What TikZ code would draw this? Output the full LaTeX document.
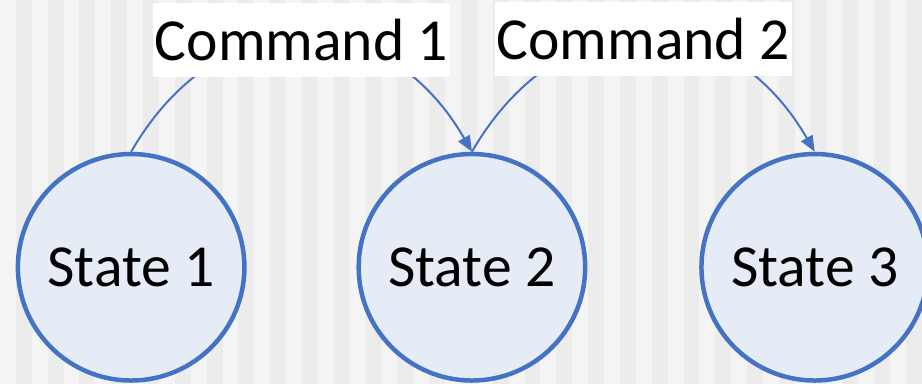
\documentclass[tikz,border=0pt]{standalone}
\usepackage{fontspec}
\setmainfont{Carlito}
\usetikzlibrary{arrows.meta}
\definecolor{stripeA}{RGB}{244,244,244}
\definecolor{stripeB}{RGB}{236,236,236}
\definecolor{stateline}{RGB}{68,114,196}
\definecolor{statefill}{RGB}{230,236,246}
\tikzset{
  statenode/.style={circle, draw=stateline, fill=statefill, line width=4.5pt,
    minimum size=228pt, inner sep=0pt, font=\fontsize{60}{72}\selectfont},
  cmdlabel/.style={fill=white, inner xsep=2pt, inner ysep=0pt,
    minimum height=74pt, font=\fontsize{60}{72}\selectfont},
  transition/.style={draw=stateline, line width=2pt,
    -{Triangle[length=16pt,width=13pt]}}
}
\begin{document}
\begin{tikzpicture}[x=1pt,y=-1pt]
  % striped backdrop
  \fill[stripeA] (0,0) rectangle (922,386);
  \foreach \k in {0,...,28} {
    \fill[stripeB] ({16+32*\k},0) rectangle ({32+32*\k},386);
  }
  \useasboundingbox (0,0) rectangle (922,386);

  % states
  \node[statenode] (s1) at (132,269) {State 1};
  \node[statenode] (s2) at (475,269) {State 2};
  \node[statenode] (s3) at (820,269) {State 3};

  % transitions, each labelled with its command
  \draw[transition] (s1.north) to[out=60,in=120,looseness=1.32]
    node[cmdlabel, pos=0.5, yshift=-2pt] (c1) {Command 1} (s2.north);
  \draw[transition] (s2.north) to[out=60,in=120,looseness=1.32]
    node[cmdlabel, pos=0.5, yshift=-2pt] (c2) {Command 2} (s3.north);
\end{tikzpicture}
\end{document}
